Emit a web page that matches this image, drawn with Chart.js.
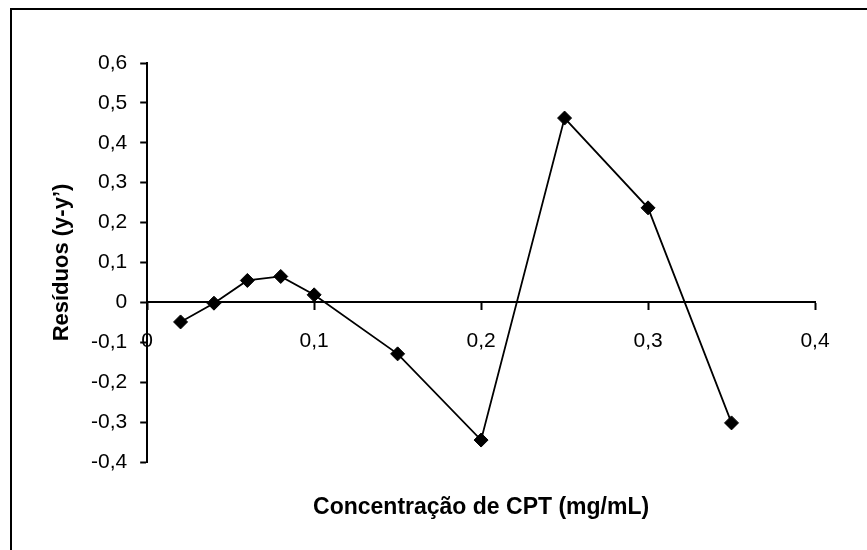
<!DOCTYPE html>
<html>
<head>
<meta charset="utf-8">
<script src="https://cdn.jsdelivr.net/npm/chart.js@4/dist/chart.umd.min.js"></script>
<style>
  html, body { margin: 0; padding: 0; background: #fff; }
  #wrap { position: relative; width: 867px; height: 550px; overflow: hidden; }
  #frame { position: absolute; left: 10px; top: 8px; width: 900px; height: 600px;
           border-left: 2px solid #000; border-top: 2px solid #000; box-sizing: border-box; }
  #cv { position: absolute; left: 0; top: 0; }
</style>
</head>
<body>
<div id="wrap">
  <div id="frame"></div>
  <canvas id="cv" width="867" height="550"></canvas>
</div>
<script>
// Concentration of CPT and the residuals of the calibration fit
const concentrations = [0.02, 0.04, 0.06, 0.08, 0.10, 0.15, 0.20, 0.25, 0.30, 0.35];
const residuals = [-0.049, -0.002, 0.055, 0.065, 0.019, -0.129, -0.345, 0.462, 0.237, -0.302];

const xTickValues = [0, 0.1, 0.2, 0.3, 0.4];
const xTickLabels = ['0', '0,1', '0,2', '0,3', '0,4'];
const yTickValues = [-0.4, -0.3, -0.2, -0.1, 0, 0.1, 0.2, 0.3, 0.4, 0.5, 0.6];
const yTickLabels = ['-0,4', '-0,3', '-0,2', '-0,1', '0', '0,1', '0,2', '0,3', '0,4', '0,5', '0,6'];

const xTitle = 'Concentração de CPT (mg/mL)';
const yTitle = 'Resíduos (y-y’)';

const FONT = "'Liberation Sans', Arial, sans-serif";

function labelFor(values, labels, v) {
  for (let i = 0; i < values.length; i++) {
    if (Math.abs(values[i] - v) < 1e-6) return labels[i];
  }
  return '';
}

const points = concentrations.map((c, i) => ({ x: c, y: residuals[i] }));

const axisGrid = { display: true, drawOnChartArea: false, drawTicks: true, tickLength: 7, tickWidth: 2, color: '#000' };
const axisBorder = { display: true, color: '#000', width: 2 };

new Chart(document.getElementById('cv'), {
  type: 'line',
  data: {
    datasets: [{
      data: points,
      borderColor: '#000',
      borderWidth: 1.8,
      backgroundColor: '#000',
      pointStyle: 'rectRot',
      pointRadius: 7,
      pointBorderWidth: 1,
      pointBackgroundColor: '#000',
      pointBorderColor: '#000',
      tension: 0,
      fill: false
    }]
  },
  options: {
    responsive: false,
    animation: false,
    devicePixelRatio: 1,
    layout: { padding: { top: 63, right: 52, left: 10, bottom: 0 } },
    plugins: {
      legend: { display: false },
      tooltip: { enabled: false },
      title: {
        display: true,
        text: yTitle,
        position: 'left',
        fullSize: false,
        color: '#000',
        font: { family: FONT, size: 22, weight: 'bold', lineHeight: 1.2 },
        padding: { top: 39, bottom: 2.6 }
      },
      subtitle: {
        display: true,
        text: xTitle,
        position: 'bottom',
        fullSize: false,
        color: '#000',
        font: { family: FONT, size: 23, weight: 'bold', lineHeight: 1.2 },
        padding: { top: 32, bottom: 28.4 }
      }
    },
    scales: {
      x: {
        type: 'linear',
        min: 0,
        max: 0.4,
        position: { y: 0 },
        afterBuildTicks: (scale) => { scale.ticks = xTickValues.map(v => ({ value: v })); },
        ticks: {
          color: '#000',
          font: { family: FONT, size: 21 },
          padding: 19,
          maxRotation: 0,
          callback: (v) => labelFor(xTickValues, xTickLabels, v)
        },
        grid: axisGrid,
        border: axisBorder
      },
      y: {
        type: 'linear',
        min: -0.4,
        max: 0.6,
        position: 'left',
        afterBuildTicks: (scale) => { scale.ticks = yTickValues.map(v => ({ value: v })); },
        ticks: {
          color: '#000',
          font: { family: FONT, size: 21 },
          padding: 13,
          callback: (v) => labelFor(yTickValues, yTickLabels, v)
        },
        grid: axisGrid,
        border: axisBorder
      }
    }
  }
});
</script>
</body>
</html>
